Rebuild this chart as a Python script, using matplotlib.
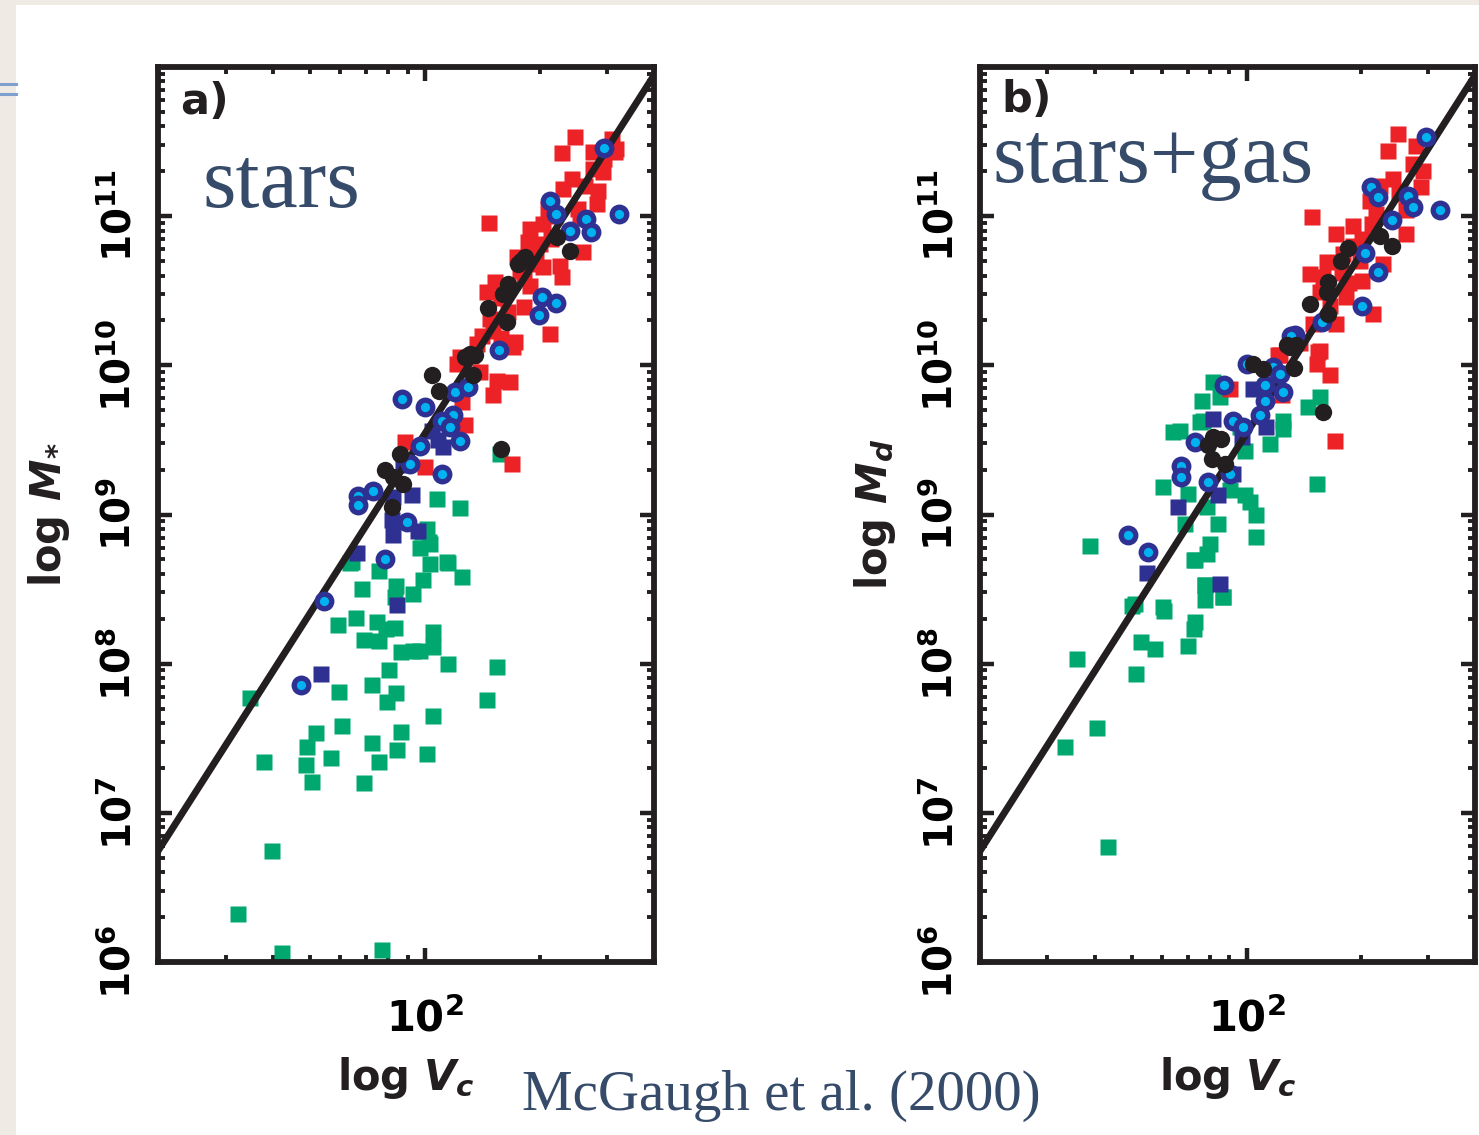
import numpy as np
import matplotlib
matplotlib.use("Agg")
import matplotlib.pyplot as plt
from matplotlib.patches import Rectangle
from matplotlib.lines import Line2D
from matplotlib.ticker import NullFormatter, LogLocator

plt.rcParams['mathtext.fontset'] = 'dejavusans'

# ---------------- data (log10 values) ----------------
# Panel a : stars
a_green_logv = [1.541, 1.578, 1.598, 1.509, 1.624, 1.888, 1.691, 1.714, 1.688, 1.704, 1.753, 1.781, 1.862,
                1.880, 1.840, 1.926, 1.937, 2.006, 2.022, 1.774, 1.860, 1.901, 1.924, 1.906, 2.060, 2.188,
                2.161, 1.773, 1.819, 1.840, 1.873, 1.897, 1.920, 1.880, 1.938, 1.969, 1.987, 2.022, 2.022,
                1.835, 1.924, 1.969, 1.920, 1.995, 2.098, 2.060, 2.013, 1.804, 1.880, 1.988, 2.011, 1.992,
                2.031, 2.092, 2.196, 2.004, 2.013, 2.057, 1.808]
a_green_logm = [7.773, 7.338, 6.744, 6.320, 6.060, 6.080, 7.443, 7.532, 7.322, 7.210, 7.365, 7.579, 7.466,
                7.338, 7.198, 7.423, 7.540, 7.392, 7.649, 7.812, 7.859, 7.746, 7.804, 7.960, 7.995, 7.975,
                7.754, 8.259, 8.309, 8.162, 8.282, 8.232, 8.240, 8.154, 8.076, 8.084, 8.084, 8.212, 8.115,
                8.503, 8.519, 8.465, 8.445, 8.562, 8.581, 8.674, 8.667, 8.678, 8.620, 8.775, 8.814, 8.884,
                9.102, 9.043, 9.407, 8.904, 8.800, 8.680, 8.681]

a_red_logv = [2.393, 2.358, 2.489, 2.498, 2.441, 2.467, 2.384, 2.362, 2.454, 2.450, 2.168, 2.323, 2.275,
              2.310, 2.271, 2.301, 2.415, 2.354, 2.240, 2.310, 2.358, 2.249, 2.183, 2.162, 2.275, 2.258,
              2.218, 2.170, 2.327, 2.236, 2.135, 2.179, 2.092, 2.406, 1.947, 2.000, 2.179, 2.188, 2.223,
              2.227, 2.083, 2.096, 2.105, 2.144, 2.231, 2.200, 2.290, 2.330, 2.420, 2.470, 2.400, 2.260,
              2.200, 2.120, 2.340, 2.500, 2.440, 2.280, 2.150]
a_red_logm = [11.528, 11.421, 11.517, 11.427, 11.316, 11.293, 11.249, 11.182, 11.171, 11.082, 10.952,
              11.048, 10.914, 10.947, 10.825, 10.814, 10.757, 10.668, 10.724, 10.657, 10.590, 10.635,
              10.557, 10.490, 10.534, 10.390, 10.356, 10.311, 10.211, 10.155, 10.144, 10.233, 10.054,
              10.989, 9.485, 9.318, 9.798, 9.898, 9.887, 9.340, 10.010, 9.753, 9.597, 9.954, 10.121,
              10.450, 10.750, 10.850, 11.200, 11.380, 11.050, 10.600, 10.180, 10.060, 11.000, 11.450,
              11.430, 10.680, 10.200]

a_navy_logv = [1.728, 1.821, 1.917, 1.913, 1.982, 1.965, 1.917, 1.943, 2.017, 2.048, 2.035, 1.926]
a_navy_logm = [7.932, 8.741, 8.860, 8.960, 8.889, 9.128, 9.117, 9.329, 9.563, 9.451, 9.500, 8.395]

a_black_logv = [2.345, 2.380, 2.262, 2.244, 2.218, 2.205, 2.166, 2.214, 2.118, 2.105, 2.131, 2.125, 2.017,
                2.037, 1.934, 1.895, 1.917, 1.943, 1.914, 2.198, 2.252]
a_black_logm = [10.858, 10.764, 10.724, 10.680, 10.546, 10.479, 10.385, 10.289, 10.077, 10.054, 10.066,
                9.932, 9.932, 9.831, 9.407, 9.300, 9.250, 9.206, 9.050, 9.440, 10.700]

a_circ_logv = [2.469, 2.328, 2.343, 2.507, 2.422, 2.434, 2.380, 2.307, 2.343, 2.299, 2.194, 1.939, 2.000,
               2.078, 2.113, 2.074, 2.044, 2.065, 2.092, 1.987, 1.961, 2.044, 1.864, 1.825, 1.825, 1.952,
               1.895, 1.735, 1.674]
a_circ_logm = [11.456, 11.100, 11.015, 11.015, 10.981, 10.892, 10.898, 10.461, 10.416, 10.340, 10.103,
               9.776, 9.720, 9.820, 9.853, 9.664, 9.630, 9.585, 9.496, 9.456, 9.340, 9.273, 9.157, 9.121,
               9.061, 8.949, 8.704, 8.418, 7.859]

# Panel b : stars + gas
b_green_logv = [1.554, 1.606, 1.522, 1.635, 1.698, 1.783, 1.723, 1.759, 1.711, 1.845, 1.865, 1.862, 1.892,
                1.892, 1.939, 1.862, 1.895, 1.781, 1.807, 1.882, 1.886, 1.912, 1.930, 1.847, 1.838, 1.895,
                1.925, 1.904, 1.956, 1.996, 2.009, 2.024, 2.024, 1.996, 2.061, 2.096, 2.096, 2.162, 2.194,
                2.186, 1.982, 1.707, 1.588, 1.825, 1.877, 1.864, 1.891, 1.939, 1.781]
b_green_logm = [8.029, 7.569, 7.442, 6.772, 8.387, 8.351, 8.145, 8.096, 7.929, 8.117, 8.279, 8.230, 8.525,
                8.425, 8.447, 8.693, 8.737, 9.184, 9.552, 9.764, 9.630, 9.887, 9.786, 9.139, 8.938, 9.050,
                8.938, 8.804, 9.161, 9.128, 9.083, 8.994, 8.849, 9.429, 9.474, 9.630, 9.574, 9.719, 9.786,
                9.206, 9.585, 8.403, 8.789, 9.559, 9.617, 8.693, 8.525, 8.447, 8.380]

b_red_logv = [2.171, 2.372, 2.398, 2.446, 2.464, 2.385, 2.437, 2.459, 2.420, 2.324, 2.341, 2.280, 2.236,
              2.302, 2.420, 2.254, 2.210, 2.166, 2.201, 2.302, 2.359, 2.297, 2.192, 2.262, 2.332, 2.236,
              2.175, 2.192, 2.087, 2.188, 2.184, 2.219, 2.232, 2.092, 2.083, 1.956, 2.250, 2.280, 2.330,
              2.400, 2.220, 2.140, 2.350, 2.270]
b_red_logm = [10.992, 11.439, 11.550, 11.472, 11.305, 11.249, 11.349, 11.193, 11.038, 11.104, 11.015,
              10.936, 10.881, 10.847, 10.881, 10.747, 10.691, 10.613, 10.590, 10.568, 10.680, 10.702,
              10.490, 10.456, 10.345, 10.278, 10.278, 10.099, 10.066, 10.088, 10.010, 9.932, 9.496, 9.798,
              10.066, 9.842, 10.620, 10.800, 10.950, 11.150, 10.400, 10.150, 11.200, 10.550]

b_navy_logv = [1.911, 2.017, 2.052, 1.987, 1.965, 1.925, 1.821, 1.738, 1.930]
b_navy_logm = [9.642, 9.842, 9.585, 9.518, 9.273, 9.128, 9.050, 8.608, 8.532]

b_black_logv = [2.017, 2.044, 2.125, 2.105, 2.131, 2.201, 1.912, 1.934, 1.899, 1.908, 1.943, 2.381, 2.350,
                2.267, 2.249, 2.214, 2.210, 2.166, 2.214, 2.114]
b_black_logm = [10.010, 9.976, 9.983, 10.133, 10.133, 9.686, 9.518, 9.507, 9.463, 9.374, 9.340, 10.802,
                10.869, 10.787, 10.702, 10.557, 10.490, 10.412, 10.345, 10.121]

b_circ_logv = [2.472, 2.328, 2.345, 2.424, 2.436, 2.507, 2.381, 2.310, 2.345, 2.302, 2.197, 2.127, 2.000,
               2.070, 2.087, 2.048, 2.096, 2.048, 2.035, 1.965, 1.991, 1.941, 1.864, 1.829, 1.829, 1.899,
               1.956, 2.118, 1.742, 1.688]
b_circ_logm = [11.528, 11.193, 11.126, 11.137, 11.059, 11.041, 10.975, 10.751, 10.624, 10.401, 10.289,
               10.206, 10.010, 9.987, 9.943, 9.865, 9.820, 9.760, 9.664, 9.630, 9.585, 9.865, 9.485, 9.322,
               9.251, 9.217, 9.273, 10.200, 8.748, 8.860]

# Tully-Fisher relation M = A * V^4
TF_A = 35.0
TF_SLOPE = 4.0

x_ticks = [100]
x_ticklabels = [r'$\mathbf{10^{2}}$']
y_ticks = [1e6, 1e7, 1e8, 1e9, 1e10, 1e11]
y_ticklabels = [r'$\mathbf{10^{6}}$', r'$\mathbf{10^{7}}$', r'$\mathbf{10^{8}}$',
                r'$\mathbf{10^{9}}$', r'$\mathbf{10^{10}}$', r'$\mathbf{10^{11}}$']

# ---------------- styling ----------------
C_RED = '#ec2227'
C_GREEN = '#00a86f'
C_NAVY = '#2e3192'
C_CYAN = '#00b2ef'
C_BLACK = '#231f20'
C_TEXT = '#354b69'

W, H = 1479, 1135
fig = plt.figure(figsize=(W / 100, H / 100), dpi=100)
fig.patch.set_facecolor('white')
fig.patches.append(Rectangle((0, 0), 16 / W, 1, transform=fig.transFigure,
                             facecolor='#efebe4', edgecolor='none', zorder=-5))
fig.patches.append(Rectangle((0, 1 - 5 / H), 1, 5 / H, transform=fig.transFigure,
                             facecolor='#efebe4', edgecolor='none', zorder=-5))
for yy in (84, 94):
    fig.lines.append(Line2D([0, 16 / W], [1 - yy / H, 1 - yy / H], transform=fig.transFigure,
                            color='#7f9fcf', lw=2.2))


def panel(rect, green, red, navy, black, circ, tag, word, word_xy, ylab):
    ax = fig.add_axes(rect)
    ax.set_xscale('log')
    ax.set_yscale('log')
    ax.set_xlim(10 ** 1.3, 10 ** 2.6)
    ax.set_ylim(1e6, 1e12)

    def pts(pair):
        return 10 ** np.asarray(pair[0]), 10 ** np.asarray(pair[1])

    gx, gy = pts(green)
    ax.plot(gx, gy, 's', ms=11.5, mfc=C_GREEN, mec='none', zorder=2)
    rx, ry = pts(red)
    ax.plot(rx, ry, 's', ms=11.5, mfc=C_RED, mec='none', zorder=2)
    nx, ny = pts(navy)
    ax.plot(nx, ny, 's', ms=11.5, mfc=C_NAVY, mec='none', zorder=2.5)

    lv = np.linspace(1.25, 2.65, 50)
    ax.plot(10 ** lv, TF_A * (10 ** lv) ** TF_SLOPE, color=C_BLACK, lw=5, zorder=3,
            solid_capstyle='butt')

    cx, cy = pts(circ)
    ax.plot(cx, cy, 'o', ms=10.5, mfc=C_CYAN, mec=C_NAVY, mew=3.8, zorder=4)
    bx, by = pts(black)
    ax.plot(bx, by, 'o', ms=12.5, mfc=C_BLACK, mec='none', zorder=4.5)

    for s in ax.spines.values():
        s.set_linewidth(4.2)
        s.set_color(C_BLACK)
        s.set_zorder(6)
    ax.tick_params(which='both', direction='in', top=True, right=True, color=C_BLACK)
    ax.tick_params(which='major', length=10, width=3.2)
    ax.tick_params(which='minor', length=5, width=2.8)
    ax.set_xticks(x_ticks)
    ax.set_xticklabels(x_ticklabels, fontsize=30)
    ax.set_yticks(y_ticks)
    ax.set_yticklabels(y_ticklabels, fontsize=28, rotation=90, va='center')
    ax.xaxis.set_minor_locator(LogLocator(base=10, subs=np.arange(2, 10)))
    ax.yaxis.set_minor_locator(LogLocator(base=10, subs=np.arange(2, 10), numticks=20))
    ax.xaxis.set_minor_formatter(NullFormatter())
    ax.yaxis.set_minor_formatter(NullFormatter())
    ax.tick_params(axis='x', which='major', pad=26)
    ax.tick_params(axis='y', which='major', pad=14)

    ax.text(word_xy[0], word_xy[1], tag, transform=ax.transAxes, fontsize=31,
            fontweight='heavy', ha='center', va='center', color=C_BLACK)
    ax.text(word_xy[2], word_xy[3], word, transform=ax.transAxes, fontsize=62,
            family='Liberation Serif', color=C_TEXT, ha='left', va='baseline')
    ax.text(0.5, -0.13, r'$\mathbf{log}\ \mathbfit{V}_{\mathbfit{c}}$', transform=ax.transAxes,
            fontsize=30, ha='center', va='center', color=C_BLACK)
    ax.text(ylab[0], 0.5, ylab[1], transform=ax.transAxes, fontsize=30, rotation=90,
            ha='center', va='center', color=C_BLACK)
    return ax


panel([158 / W, 173 / H, 496 / W, 895 / H],
      (a_green_logv, a_green_logm), (a_red_logv, a_red_logm), (a_navy_logv, a_navy_logm),
      (a_black_logv, a_black_logm), (a_circ_logv, a_circ_logm),
      'a)', 'stars', (0.093, 0.961, 0.089, 0.8436),
      (-0.22, r'$\mathbf{log}\ \mathbfit{M}_{\mathbf{*}}$'))
panel([980 / W, 173 / H, 495 / W, 895 / H],
      (b_green_logv, b_green_logm), (b_red_logv, b_red_logm), (b_navy_logv, b_navy_logm),
      (b_black_logv, b_black_logm), (b_circ_logv, b_circ_logm),
      'b)', 'stars+gas', (0.095, 0.963, 0.026, 0.8715),
      (-0.212, r'$\mathbf{log}\ \mathbfit{M}_{\mathbfit{d}}$'))

fig.text(522 / W, 1 - 1110 / H, 'McGaugh et al. (2000)', fontsize=41, family='Liberation Serif',
         color=C_TEXT, ha='left', va='baseline')

fig.savefig('out.png', dpi=100, facecolor=fig.get_facecolor())
